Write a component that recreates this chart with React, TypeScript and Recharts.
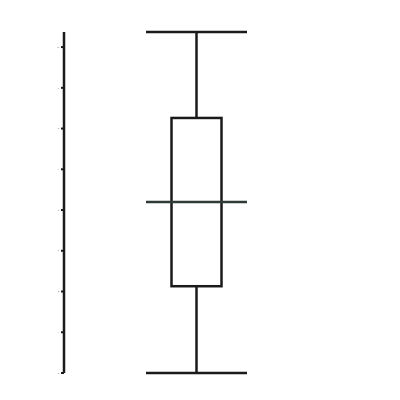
import { ComposedChart, Bar, XAxis, YAxis } from 'recharts';

const categories = ['A'];
const minValues = [2.0];
const q1Values = [4.13];
const medianValues = [6.2];
const q3Values = [8.26];
const maxValues = [10.37];
const yTicks = [2, 3, 4, 5, 6, 7, 8, 9, 10];

const data = categories.map((name, i) => ({
  name,
  range: [minValues[i], maxValues[i]],
  min: minValues[i],
  q1: q1Values[i],
  median: medianValues[i],
  q3: q3Values[i],
  max: maxValues[i],
}));

const BoxShape = (props: any) => {
  const { x, y, width, height, payload } = props;
  const { min, max, q1, median, q3 } = payload;
  const toY = (v: number) => y + ((max - v) / (max - min)) * height;
  const cx = x + width / 2;
  const boxW = 50;
  const stroke = '#1a1a1a';
  const sw = 2.5;
  return (
    <g>
      <line x1={x} x2={x + width} y1={toY(max)} y2={toY(max)} stroke={stroke} strokeWidth={sw} />
      <line x1={x} x2={x + width} y1={toY(min)} y2={toY(min)} stroke={stroke} strokeWidth={sw} />
      <line x1={cx} x2={cx} y1={toY(max)} y2={toY(q3)} stroke={stroke} strokeWidth={sw} />
      <line x1={cx} x2={cx} y1={toY(q1)} y2={toY(min)} stroke={stroke} strokeWidth={sw} />
      <rect x={cx - boxW / 2} y={toY(q3)} width={boxW} height={toY(q1) - toY(q3)} fill="none" stroke={stroke} strokeWidth={sw} />
      <line x1={x} x2={x + width} y1={toY(median)} y2={toY(median)} stroke="#2f3b36" strokeWidth={sw} />
    </g>
  );
};

export default function App() {
  return (
    <div style={{ position: 'absolute', left: 0, top: 0, background: 'white' }}>
      <ComposedChart
        width={400}
        height={400}
        data={data}
        margin={{ top: 32, right: 71, bottom: 27, left: 0 }}
      >
        <XAxis dataKey="name" hide />
        <YAxis
          type="number"
          domain={[2, 10.37]}
          ticks={yTicks}
          width={64}
          axisLine={{ stroke: '#1a1a1a', strokeWidth: 2.5 }}
          tickLine={{ stroke: '#1a1a1a', strokeWidth: 2 }}
          tickSize={3}
          tick={{ fontSize: 2, fill: '#000' }}
          interval={0}
        />
        <Bar dataKey="range" barSize={101} shape={<BoxShape />} isAnimationActive={false} />
      </ComposedChart>
    </div>
  );
}
